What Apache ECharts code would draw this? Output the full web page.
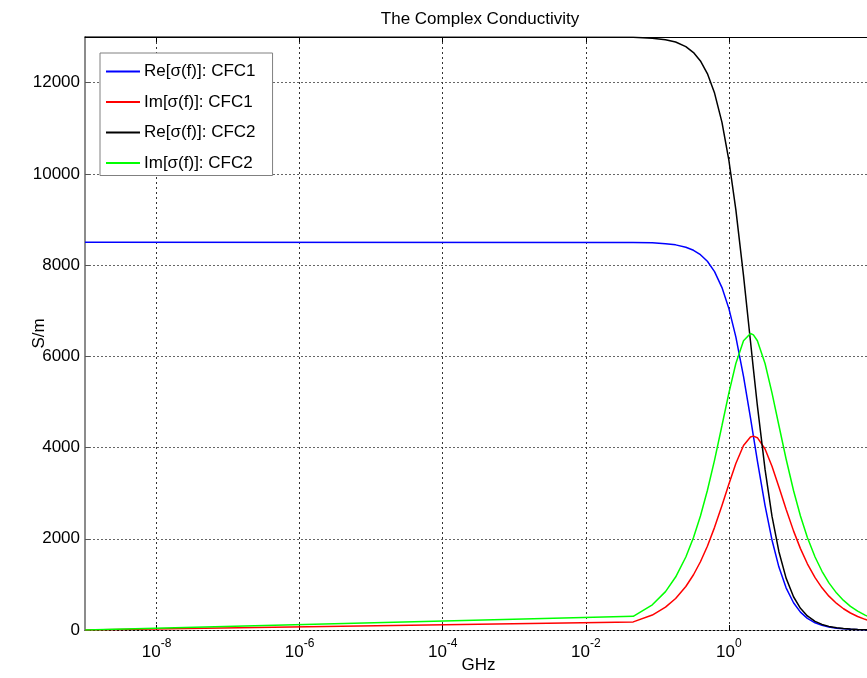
<!DOCTYPE html>
<html>
<head>
<meta charset="utf-8">
<title>The Complex Conductivity</title>
<script src="https://cdn.jsdelivr.net/npm/echarts@6/dist/echarts.min.js"></script>
<style>
  html, body { margin: 0; padding: 0; background: #fff; }
  #chart { width: 867px; height: 678px; }
</style>
</head>
<body>
<div id="chart"></div>
<script>
// Frequency samples (GHz)
const freqGHz = [1e-9, 0.046, 0.085, 0.13, 0.18, 0.25, 0.32, 0.4, 0.5, 0.63, 0.8, 1.0, 1.25, 1.6, 2.0, 2.2, 2.5, 3.2, 4.0, 5.0, 6.3, 8.0, 10, 12.5, 16, 20, 25, 32, 40, 50, 63, 80, 100];

// Conductivity values (S/m)
const reCFC1 = [8500, 8496, 8487, 8470, 8443, 8392, 8324, 8228, 8083, 7856, 7507, 7045, 6426, 5560, 4654, 4250, 3710, 2728, 1974, 1379, 924, 598, 392, 255, 158, 102, 65, 40, 26, 16, 10, 6, 4];
const imCFC1 = [0, 178, 328, 500, 691, 954, 1211, 1496, 1837, 2250, 2730, 3202, 3651, 4043, 4231, 4250, 4216, 3968, 3589, 3133, 2646, 2173, 1784, 1451, 1147, 924, 742, 582, 466, 373, 297, 234, 187];
const reCFC2 = [13000, 12993, 12975, 12942, 12890, 12790, 12659, 12475, 12198, 11771, 11127, 10293, 9214, 7769, 6336, 5720, 4917, 3520, 2496, 1716, 1137, 729, 476, 309, 190, 122, 79, 48, 31, 20, 12, 8, 5];
const imCFC2 = [0, 299, 552, 841, 1161, 1600, 2028, 2500, 3059, 3725, 4483, 5200, 5843, 6342, 6500, 6471, 6342, 5843, 5200, 4483, 3749, 3059, 2500, 2028, 1600, 1287, 1033, 809, 648, 519, 412, 325, 260];

const seriesNames = ['Re[σ(f)]: CFC1', 'Im[σ(f)]: CFC1', 'Re[σ(f)]: CFC2', 'Im[σ(f)]: CFC2'];
const seriesColors = ['#0000ff', '#ff0000', '#000000', '#00ff00'];

// Axis ticks
const xTickValues = [1e-8, 1e-6, 1e-4, 1e-2, 1];
const yTickValues = [0, 2000, 4000, 6000, 8000, 10000, 12000];

const FONT = '"Liberation Sans", Arial, Helvetica, sans-serif';
const FS = 17;

function pairs(values) {
  return freqGHz.map((f, i) => [f, values[i]]);
}

const allValues = [reCFC1, imCFC1, reCFC2, imCFC2];

const chart = echarts.init(document.getElementById('chart'), null, { renderer: 'canvas' });

const option = {
  backgroundColor: '#ffffff',
  animation: false,
  textStyle: { fontFamily: FONT },
  title: {
    text: 'The Complex Conductivity',
    left: 475,
    top: 6,
    textAlign: 'center',
    textStyle: { fontFamily: FONT, fontSize: FS, fontWeight: 'normal', color: '#000' }
  },
  grid: { left: 85, top: 37, width: 787, height: 593, containLabel: false, outerBoundsMode: 'none' },
  legend: {
    orient: 'vertical',
    left: 100,
    top: 53,
    data: seriesNames,
    icon: 'rect',
    itemWidth: 34,
    itemHeight: 2,
    itemGap: 13.5,
    padding: [10, 17, 4, 6],
    backgroundColor: '#ffffff',
    borderColor: '#808080',
    borderWidth: 1,
    borderRadius: 0,
    textStyle: { fontFamily: FONT, fontSize: FS, color: '#000', padding: [0, 0, 0, -1] },
    selectedMode: false
  },
  xAxis: [
    {
      type: 'log',
      logBase: 10,
      min: 1e-9,
      max: 100,
      position: 'bottom',
      name: 'GHz',
      nameLocation: 'middle',
      nameGap: 27,
      nameMoveOverlap: false,
      nameTextStyle: { fontFamily: FONT, fontSize: FS, color: '#000' },
      axisLine: { show: true, onZero: false, lineStyle: { color: '#000', width: 1, type: [2, 2] } },
      axisTick: { show: true, inside: true, length: 5, customValues: xTickValues, lineStyle: { color: '#000' } },
      axisLabel: {
        customValues: xTickValues,
        margin: 8,
        formatter: function (v) {
          const e = Math.round(Math.log10(v));
          return '{b|10}{e|' + e + '}';
        },
        rich: {
          b: { fontFamily: FONT, fontSize: FS, color: '#000', verticalAlign: 'bottom' },
          e: { fontFamily: FONT, fontSize: 12, color: '#000', verticalAlign: 'bottom', padding: [0, 0, 11, 0] }
        }
      },
      splitLine: { show: true, lineStyle: { color: '#333', width: 1, type: [2, 3] } }
    },
    {
      type: 'log',
      logBase: 10,
      min: 1e-9,
      max: 100,
      position: 'top',
      axisLine: { show: true, onZero: false, lineStyle: { color: '#000', width: 1 } },
      axisTick: { show: true, inside: true, length: 5, customValues: xTickValues, lineStyle: { color: '#000' } },
      axisLabel: { show: false },
      splitLine: { show: false }
    }
  ],
  yAxis: {
    type: 'value',
    min: 0,
    max: 13000,
    interval: 2000,
    name: 'S/m',
    nameLocation: 'middle',
    nameGap: 37,
    nameMoveOverlap: false,
    nameTextStyle: { fontFamily: FONT, fontSize: FS, color: '#000' },
    axisLine: { show: true, lineStyle: { color: '#8c8c8c', width: 2 } },
    axisTick: { show: true, inside: true, length: 5, customValues: yTickValues, lineStyle: { color: '#555' } },
    axisLabel: {
      customValues: yTickValues,
      margin: 5,
      fontFamily: FONT,
      fontSize: FS,
      color: '#000',
      formatter: function (v) { return String(v); }
    },
    splitLine: { show: true, lineStyle: { color: '#666', width: 1, type: [2, 2] } }
  },
  series: seriesNames.map((name, i) => ({
    name: name,
    type: 'line',
    xAxisIndex: 0,
    data: pairs(allValues[i]),
    showSymbol: false,
    symbol: 'none',
    smooth: false,
    clip: true,
    color: seriesColors[i],
    lineStyle: { color: seriesColors[i], width: 1.5 },
    itemStyle: { color: seriesColors[i] },
    z: 2 + i
  }))
};

chart.setOption(option);
</script>
</body>
</html>
